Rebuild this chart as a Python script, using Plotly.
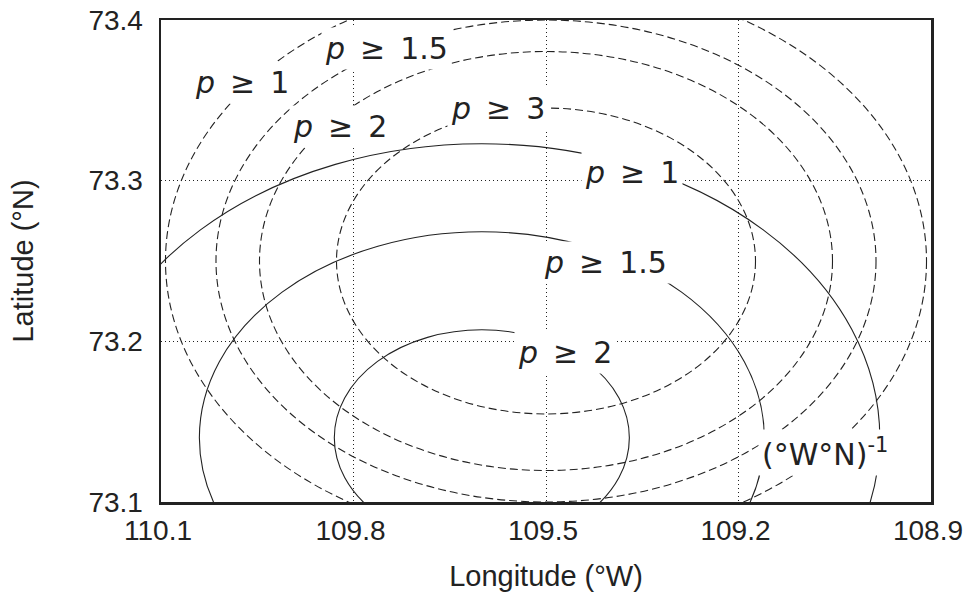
import plotly.graph_objects as go

# ---- axis ticks -------------------------------------------------------
lon_ticks = [110.1, 109.8, 109.5, 109.2, 108.9]
lon_tick_labels = ["110.1", "109.8", "109.5", "109.2", "108.9"]
lat_ticks = [73.1, 73.2, 73.3, 73.4]
lat_tick_labels = ["73.1", "73.2", "73.3", "73.4"]

# ---- dashed contour set (probability density, (°W°N)^-1) --------------
dashed_levels = ["1", "1.5", "2", "3"]
dashed_center_lon = 109.50
dashed_center_lat = 73.25
dashed_half_width_lon = [0.593, 0.5143, 0.4465, 0.3265]
dashed_half_height_lat = [0.1755, 0.1500, 0.1304, 0.0952]
dashed_label_lon = [109.974, 109.749, 109.821, 109.575]
dashed_label_lat = [73.361, 73.382, 73.334, 73.345]

# ---- solid contour set ------------------------------------------------
solid_levels = ["1", "1.5", "2"]
solid_center_lon = 109.60
solid_center_lat = 73.14
solid_half_width_lon = [0.6202, 0.4402, 0.2299]
solid_half_height_lat = [0.1830, 0.1282, 0.0672]
solid_label_lon = [109.366, 109.407, 109.470]
solid_label_lat = [73.305, 73.249, 73.193]

unit_label = "(°W°N)<sup>-1</sup>"
unit_label_lon = 109.065
unit_label_lat = 73.131

INK = "#222222"
TICK_FONT = dict(family="Liberation Sans, Arial, sans-serif", size=28, color=INK)
TITLE_FONT = dict(family="Liberation Sans, Arial, sans-serif", size=29, color=INK)
LABEL_FONT = dict(family="DejaVu Sans, sans-serif", size=30, color=INK)
SP = "\u2002"

fig = go.Figure()

# invisible anchor trace (the distribution centres)
fig.add_trace(go.Scatter(
    x=[dashed_center_lon, solid_center_lon],
    y=[dashed_center_lat, solid_center_lat],
    mode="markers", marker=dict(opacity=0), hoverinfo="skip", showlegend=False))

shapes = []
for a, b in zip(dashed_half_width_lon, dashed_half_height_lat):
    shapes.append(dict(type="circle", xref="x", yref="y", layer="above",
                       x0=dashed_center_lon - a, x1=dashed_center_lon + a,
                       y0=dashed_center_lat - b, y1=dashed_center_lat + b,
                       line=dict(color=INK, width=1.1, dash="8px,4px")))
for a, b in zip(solid_half_width_lon, solid_half_height_lat):
    shapes.append(dict(type="circle", xref="x", yref="y", layer="above",
                       x0=solid_center_lon - a, x1=solid_center_lon + a,
                       y0=solid_center_lat - b, y1=solid_center_lat + b,
                       line=dict(color=INK, width=1.1)))

annotations = []
for lev, x, y in zip(dashed_levels, dashed_label_lon, dashed_label_lat):
    annotations.append(dict(x=x, y=y, xref="x", yref="y", text="<i>p</i>" + SP + "≥" + SP + lev,
                            showarrow=False, font=LABEL_FONT, bgcolor="white", borderpad=3))
for lev, x, y in zip(solid_levels, solid_label_lon, solid_label_lat):
    annotations.append(dict(x=x, y=y, xref="x", yref="y", text="<i>p</i>" + SP + "≥" + SP + lev,
                            showarrow=False, font=LABEL_FONT, bgcolor="white", borderpad=3))
annotations.append(dict(x=unit_label_lon, y=unit_label_lat, xref="x", yref="y", text=unit_label,
                        showarrow=False, font=LABEL_FONT, bgcolor="white", borderpad=3))

fig.update_layout(
    width=974, height=592,
    margin=dict(l=161, r=43, t=20, b=90),
    paper_bgcolor="white", plot_bgcolor="white",
    shapes=shapes, annotations=annotations, showlegend=False,
    xaxis=dict(range=[lon_ticks[0], lon_ticks[-1]], tickvals=lon_ticks, ticktext=lon_tick_labels,
               tickfont=TICK_FONT, ticks="", ticklabelstandoff=2, ticklabelshift=3,
               automargin=False, ticklabeloverflow="allow",
               showgrid=True, gridcolor=INK, gridwidth=1, griddash="1px,3px",
               showline=True, linecolor=INK, linewidth=2.5, mirror=True, zeroline=False,
               title=dict(text="Longitude (°W)", font=TITLE_FONT, standoff=21)),
    yaxis=dict(range=[lat_ticks[0], lat_ticks[-1]], tickvals=lat_ticks, ticktext=lat_tick_labels,
               tickfont=TICK_FONT, ticks="", ticklabelstandoff=10,
               automargin=False, ticklabeloverflow="allow",
               showgrid=True, gridcolor=INK, gridwidth=1, griddash="1px,3px",
               showline=True, linecolor=INK, linewidth=2.5, mirror=True, zeroline=False,
               title=dict(text="Latitude (°N)", font=TITLE_FONT, standoff=47)),
)

# remove the default 8px page margin so the 974x592 figure fills the window
fig.write_html(
    "out.html",
    config={"displayModeBar": False, "staticPlot": True},
    post_script="document.body.style.margin='0';document.documentElement.style.overflow='hidden';",
)
